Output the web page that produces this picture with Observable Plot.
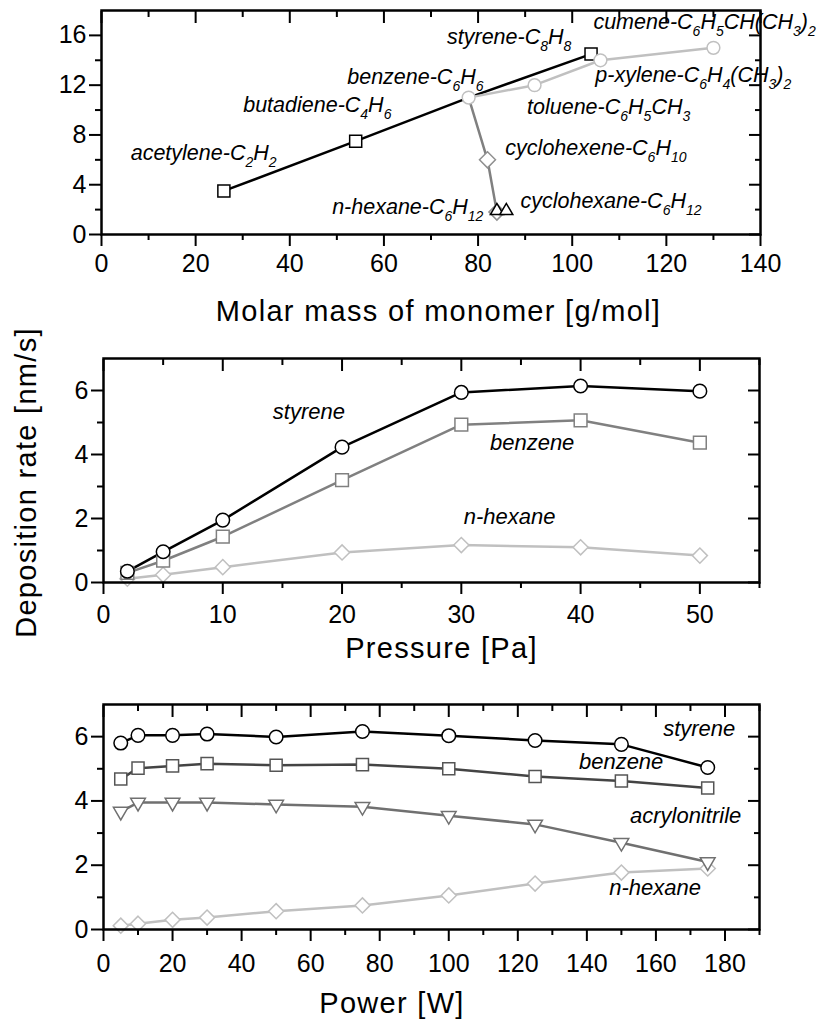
<!DOCTYPE html>
<html>
<head>
<meta charset="utf-8">
<script src="https://cdn.jsdelivr.net/npm/d3@7"></script>
<script src="https://cdn.jsdelivr.net/npm/@observablehq/plot@0.6"></script>
<style>
  body { margin: 0; background: #fff; }
  #chart { width: 825px; }
  #chart svg { display: block; }
</style>
</head>
<body>
<div id="chart"></div>
<script>
// ---------------- Panel A: rate vs molar mass ----------------
const unsatMass = [26, 54, 78, 104];          // acetylene, butadiene, benzene, styrene
const unsatRate = [3.5, 7.5, 11, 14.5];
const unsatMarkMass = [26, 54, 104];
const unsatMarkRate = [3.5, 7.5, 14.5];
const methylMass = [78, 92, 106, 130];        // benzene, toluene, p-xylene, cumene
const methylRate = [11, 12, 14, 15];
const saturMass = [78, 82, 84];               // benzene, cyclohexene, n-hexane
const saturRate = [11, 6, 1.8];
const saturMarkMass = [82, 84];
const saturMarkRate = [6, 1.8];
const triMass = [84, 86];                     // cyclohexane markers
const triRate = [1.9, 1.9];

const massLabels = ["acetylene-C_2H_2", "butadiene-C_4H_6", "benzene-C_6H_6", "styrene-C_8H_8",
  "cumene-C_6H_5CH(CH_3)_2", "p-xylene-C_6H_4(CH_3)_2", "toluene-C_6H_5CH_3",
  "cyclohexene-C_6H_10", "cyclohexane-C_6H_12", "n-hexane-C_6H_12"];
const massLabelX = [6.2, 30.1, 52.2, 73.4, 104.5, 104.9, 90.4, 85.8, 89.0, 49.0];
const massLabelY = [6.0, 9.84, 12.1, 15.3, 16.48, 12.24, 9.7, 6.38, 2.16, 1.68];

const massTicks = [0, 20, 40, 60, 80, 100, 120, 140];
const massMinor = [10, 30, 50, 70, 90, 110, 130];
const rateTicksA = [0, 4, 8, 12, 16];
const rateMinorA = [2, 6, 10, 14];

// ---------------- Panel B: rate vs pressure ----------------
const pressure = [2, 5, 10, 20, 30, 40, 50];
const styreneP = [0.35, 0.96, 1.95, 4.23, 5.94, 6.14, 5.98];
const benzeneP = [0.3, 0.68, 1.43, 3.2, 4.93, 5.07, 4.37];
const hexaneP = [0.12, 0.24, 0.48, 0.94, 1.17, 1.1, 0.84];
const pLabels = ["styrene", "benzene", "n-hexane"];
const pLabelX = [14.2, 32.4, 30.2];
const pLabelY = [5.11, 4.13, 1.82];
const pressureTicks = [0, 10, 20, 30, 40, 50];
const pressureMinor = [5, 15, 25, 35, 45, 55];
const rateTicks = [0, 2, 4, 6];
const rateMinor = [1, 3, 5];

// ---------------- Panel C: rate vs power ----------------
const power = [5, 10, 20, 30, 50, 75, 100, 125, 150, 175];
const styreneW = [5.8, 6.04, 6.04, 6.08, 5.99, 6.16, 6.03, 5.88, 5.76, 5.04];
const benzeneW = [4.68, 5.02, 5.09, 5.16, 5.11, 5.13, 5.0, 4.76, 4.62, 4.4];
const acrylW = [3.67, 3.95, 3.95, 3.95, 3.89, 3.82, 3.54, 3.27, 2.7, 2.1];
const hexaneW = [0.12, 0.18, 0.3, 0.37, 0.57, 0.75, 1.06, 1.43, 1.77, 1.9];
const wLabels = ["styrene", "benzene", "acrylonitrile", "n-hexane"];
const wLabelX = [162.1, 137.7, 152.5, 146.5];
const wLabelY = [6.01, 5.0, 3.3, 1.07];
const powerTicks = [0, 20, 40, 60, 80, 100, 120, 140, 160, 180];
const powerMinor = [10, 30, 50, 70, 90, 110, 130, 150, 170, 190];

const FONT = "'Liberation Sans', Arial, Helvetica, sans-serif";
const BLACK = "#000", DARK = "#444", MID = "#808080", MID2 = "#707070", LIGHT = "#c0c0c0";
const TITLE_SIZE = 29;

const triDown = { draw(ctx, size) { const r = Math.sqrt(size / Math.PI); const w = 1.05 * r, h = 1.8 * r;
  ctx.moveTo(-w, -h / 3); ctx.lineTo(w, -h / 3); ctx.lineTo(0, 2 * h / 3); ctx.closePath(); } };
const triUp = { draw(ctx, size) { const r = Math.sqrt(size / Math.PI); const w = 1.05 * r, h = 1.8 * r;
  ctx.moveTo(-w, h / 3); ctx.lineTo(w, h / 3); ctx.lineTo(0, -2 * h / 3); ctx.closePath(); } };

const idx = (a) => a.map((_, i) => i);

function series(xs, ys, color) {
  return Plot.line(idx(xs), { x: xs, y: ys, stroke: color, strokeWidth: 2.5 });
}
function markers(xs, ys, symbol, color, r) {
  return Plot.dot(idx(xs), { x: xs, y: ys, symbol, r, fill: "white", stroke: color, strokeWidth: 1.5 });
}
function frameAxes(xMajor, xMinor, yMajor, yMinor, xPad) {
  const c = { strokeWidth: 2, fontSize: 25, label: null };
  const none = () => "";
  return [
    Plot.axisX(xMajor, { anchor: "bottom", tickSize: 12, tickPadding: xPad, ...c }),
    Plot.axisX(xMinor, { anchor: "bottom", tickSize: 6, tickFormat: none, ...c }),
    Plot.axisX(xMajor, { anchor: "top", tickSize: 12, dy: 12, tickFormat: none, ...c }),
    Plot.axisX(xMinor, { anchor: "top", tickSize: 6, dy: 6, tickFormat: none, ...c }),
    Plot.axisY(yMajor, { anchor: "left", tickSize: 12, tickPadding: 3, ...c }),
    Plot.axisY(yMinor, { anchor: "left", tickSize: 6, tickFormat: none, ...c }),
    Plot.axisY(yMajor, { anchor: "right", tickSize: 12, dx: -12, tickFormat: none, ...c }),
    Plot.axisY(yMinor, { anchor: "right", tickSize: 6, dx: -6, tickFormat: none, ...c }),
    Plot.frame({ stroke: "#000", strokeWidth: 2.5 })
  ];
}
function labels(texts, xs, ys, size) {
  return Plot.text(idx(texts), { x: xs, y: ys, text: texts, textAnchor: "start", lineAnchor: "bottom",
    fontStyle: "italic", fontSize: size, fill: "#000" });
}
function xTitle(t, dx, dy) {
  return Plot.text([t], { text: d => d, frameAnchor: "bottom", dx, dy, lineAnchor: "bottom", fontSize: TITLE_SIZE, fill: "#000" });
}
function subscripts(svg, subSize, shift) {
  d3.select(svg).selectAll("text").each(function () {
    const t = this.textContent;
    if (!/_\d/.test(t)) return;
    const parts = t.split(/_(\d+)/);
    const sel = d3.select(this);
    sel.text(null);
    let down = false;
    parts.forEach((p, i) => {
      if (!p) return;
      const ts = sel.append("tspan").text(p);
      if (i % 2) { ts.attr("font-size", subSize + "px"); if (!down) ts.attr("dy", shift); down = true; }
      else if (down) { ts.attr("dy", -shift); down = false; }
    });
  });
}
function spreadTitles(svg, titles, spacing) {
  d3.select(svg).selectAll("text").each(function () {
    if (titles.includes(this.textContent)) this.setAttribute("letter-spacing", spacing);
  });
}
const style = { background: "white", fontFamily: FONT, overflow: "visible", color: "#000" };
const titlesAll = ["Molar mass of monomer [g/mol]", "Pressure [Pa]", "Power [W]", "Deposition rate [nm/s]"];

// Panel A
const a = Plot.plot({
  width: 825, height: 330, marginTop: 10, marginBottom: 96, marginLeft: 101, marginRight: 65,
  style,
  x: { domain: [0, 140], label: null },
  y: { domain: [0, 18], label: null },
  marks: [
    series(unsatMass, unsatRate, BLACK),
    series(methylMass, methylRate, LIGHT),
    series(saturMass, saturRate, MID),
    markers(unsatMarkMass, unsatMarkRate, "square", BLACK, 6.8),
    markers(methylMass, methylRate, "circle", LIGHT, 6.4),
    markers(saturMarkMass, saturMarkRate, "diamond2", "#909090", 7.2),
    markers(triMass, triRate, triUp, BLACK, 6.2),
    labels(massLabels, massLabelX, massLabelY, 21.5),
    ...frameAxes(massTicks, massMinor, rateTicksA, rateMinorA, 8),
    xTitle("Molar mass of monomer [g/mol]", 7.5, 86)
  ]
});
subscripts(a, 14, 7);

// Panel B
const b = Plot.plot({
  width: 825, height: 335, marginTop: 28, marginBottom: 83, marginLeft: 103, marginRight: 66,
  style,
  x: { domain: [0, 55], label: null },
  y: { domain: [0, 7], label: null },
  marks: [
    series(pressure, hexaneP, LIGHT),
    series(pressure, benzeneP, MID),
    series(pressure, styreneP, BLACK),
    markers(pressure, hexaneP, "diamond2", LIGHT, 6.8),
    markers(pressure, benzeneP, "square", MID, 7.2),
    markers(pressure, styreneP, "circle", BLACK, 6.8),
    labels(pLabels, pLabelX, pLabelY, 22),
    ...frameAxes(pressureTicks, pressureMinor, rateTicks, rateMinor, 11),
    xTitle("Pressure [Pa]", 10, 75),
    Plot.text(["Deposition rate [nm/s]"], { text: d => d, frameAnchor: "left", rotate: -90, dx: -68, dy: 12,
      lineAnchor: "bottom", textAnchor: "middle", fontSize: TITLE_SIZE, fill: "#000" })
  ]
});

// Panel C
const c = Plot.plot({
  width: 825, height: 358, marginTop: 39, marginBottom: 94, marginLeft: 103, marginRight: 66,
  style,
  x: { domain: [0, 190], label: null },
  y: { domain: [0, 7], label: null },
  marks: [
    series(power, hexaneW, LIGHT),
    series(power, acrylW, MID2),
    series(power, benzeneW, DARK),
    series(power, styreneW, BLACK),
    markers(power, hexaneW, "diamond2", LIGHT, 6.8),
    markers(power, acrylW, triDown, MID2, 7),
    markers(power, benzeneW, "square", "#555", 6.8),
    markers(power, styreneW, "circle", BLACK, 6.8),
    labels(wLabels, wLabelX, wLabelY, 22),
    ...frameAxes(powerTicks, powerMinor, rateTicks, rateMinor, 13),
    xTitle("Power [W]", -39.5, 83)
  ]
});

for (const s of [a, b, c]) spreadTitles(s, titlesAll, 1.3);

const root = document.getElementById("chart");
root.append(a, b, c);
</script>
</body>
</html>
